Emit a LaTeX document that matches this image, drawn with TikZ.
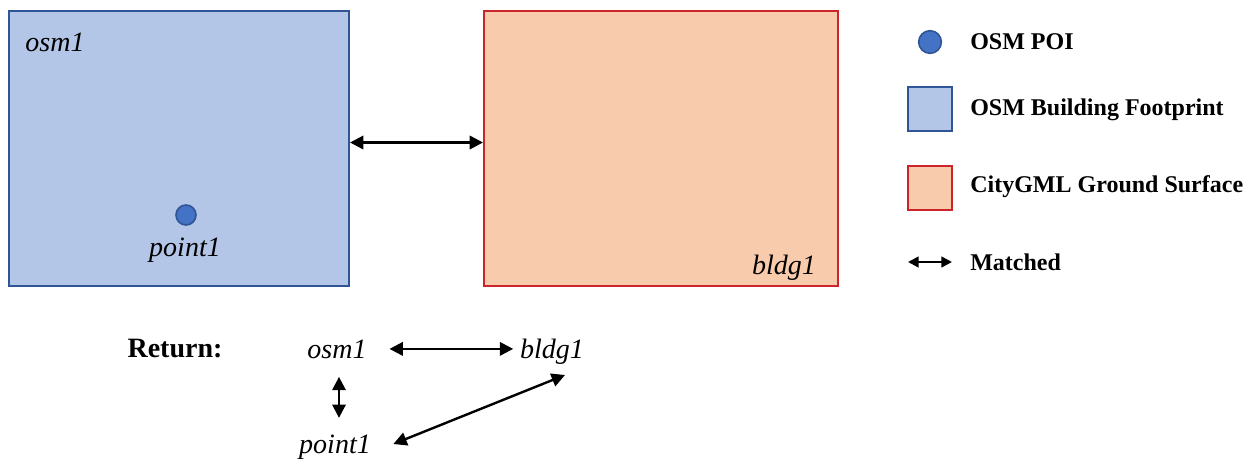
\documentclass[tikz,border=0pt]{standalone}
\usepackage{fontspec}
\setmainfont{Liberation Serif}
\usepackage{tikz}
\usetikzlibrary{arrows.meta}
\definecolor{osmfill}{HTML}{B4C6E7}
\definecolor{osmline}{HTML}{2F5597}
\definecolor{gmlfill}{HTML}{F8CBAD}
\definecolor{gmlline}{HTML}{C9252B}
\definecolor{poifill}{HTML}{4472C4}
\tikzset{>={Triangle[length=10pt,width=10pt]}}
\tikzset{
    footprint/.style={rectangle,draw=osmline,fill=osmfill,line width=1.5pt,inner sep=0pt},
    ground/.style={rectangle,draw=gmlline,fill=gmlfill,line width=1.5pt,inner sep=0pt},
    poi/.style={circle,draw=osmline,fill=poifill,line width=1.2pt,minimum size=15pt,inner sep=0pt},
    idlabel/.style={font=\fontsize{21}{25}\selectfont\itshape,inner sep=1pt,anchor=base},
    legendtext/.style={font=\fontsize{18}{21}\selectfont\bfseries,anchor=west,inner sep=0pt},
    match/.style={<->,line width=1.8pt},
}

\begin{document}
\begin{tikzpicture}[x=0.75pt,y=-0.75pt]
        \useasboundingbox (0,0) rectangle (1255,461);
        % the two footprints
        \node[footprint,minimum width=255pt,minimum height=206pt] (osm) at (179,148.5) {};
        \node[ground,minimum width=265.5pt,minimum height=206pt] (gml) at (661,148.5) {};
        \node[idlabel] (osmname) at (55,51) {osm1};
        \node[idlabel] (gmlname) at (784,274) {bldg1};
        \node[poi] (p1) at (186,215) {};
        \node[idlabel] (p1name) at (185,256) {point1};
        \draw[match] ([yshift=4.5pt]osm.east) -- ([yshift=4.5pt]gml.west);

        % legend
        \node[poi,minimum size=17pt] (lpoi) at (930,42) {};
        \node[footprint,minimum size=33pt] (lfoot) at (930,109) {};
        \node[ground,minimum size=33pt] (lground) at (930,187.5) {};
        \coordinate (lmatchL) at (908,262);
        \coordinate (lmatchR) at (952,262);
        \draw[match,>={Triangle[length=8pt,width=8pt]}] (lmatchL) -- (lmatchR);
        \node[legendtext] at (970,42) {OSM POI};
        \node[legendtext] at (970,110) {OSM Building Footprint};
        \node[legendtext] at (970,187) {CityGML Ground Surface};
        \node[legendtext] at (970,262) {Matched};

        % returned pairs
        \node[font=\fontsize{21}{25}\selectfont\bfseries] (ret) at (175,349) {Return:};
        \node[idlabel] (r1) at (337,358) {osm1};
        \node[idlabel] (r2) at (552,358) {bldg1};
        \node[idlabel] (r3) at (335,453) {point1};
        \draw[match,shorten <=16pt,shorten >=4pt] (r1.east) -- (r1.east -| r2.west);
        \draw[match,shorten <=12.75pt,shorten >=11.25pt] ([xshift=1.5pt]r1.south) -- ([xshift=1.5pt]r1.south |- r3.north);
        \draw[match] ([xshift=15.75pt,yshift=6.75pt]r3.base east) -- ([xshift=9.75pt,yshift=-12.75pt]r2.base);
\end{tikzpicture}
\end{document}
